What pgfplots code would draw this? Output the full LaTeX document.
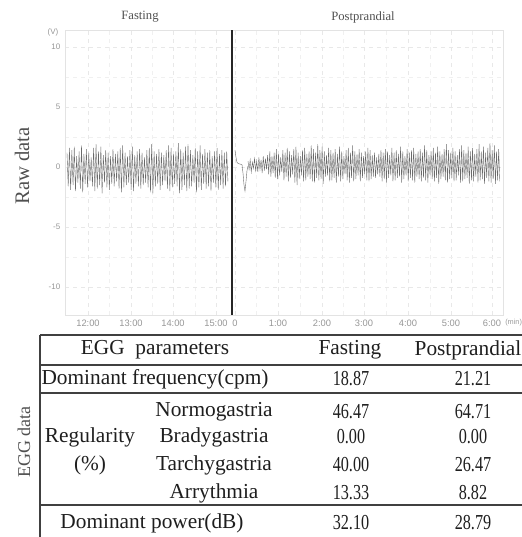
\documentclass[border=0pt]{standalone}
\usepackage{pgfplots}
\usepackage{pgfplotstable}
\pgfplotsset{compat=1.18}
\usepackage{fontspec}
\setmainfont{Liberation Serif}
\setsansfont{Liberation Sans}

% fasting trace: alternating peak / trough (V)
\pgfplotstableread[row sep=\\]{
y\\
1.2\\-1.6\\1.6\\-1.9\\1.4\\-1.5\\1.7\\-2.0\\0.9\\-1.3\\1.3\\-1.8\\1.8\\-2.1\\1.1\\-1.4\\1.5\\-1.7\\1.2\\-1.2\\
0.8\\-1.6\\1.6\\-2.0\\1.9\\-1.8\\1.3\\-1.5\\1.7\\-2.2\\1.0\\-1.3\\1.4\\-1.7\\1.2\\-1.9\\0.9\\-1.4\\1.5\\-1.6\\
1.1\\-1.2\\1.3\\-1.8\\1.6\\-2.1\\1.8\\-1.7\\1.2\\-1.5\\0.9\\-1.3\\1.4\\-1.9\\1.7\\-2.0\\1.0\\-1.4\\1.3\\-1.6\\
1.5\\-1.8\\1.2\\-1.5\\0.8\\-1.3\\1.4\\-1.7\\1.6\\-2.1\\1.9\\-2.2\\1.3\\-1.6\\1.1\\-1.4\\1.5\\-1.9\\1.2\\-1.5\\
1.0\\-1.2\\1.4\\-1.8\\1.8\\-2.0\\1.6\\-1.7\\1.1\\-1.4\\1.3\\-1.6\\2.0\\-2.2\\1.5\\-1.9\\1.2\\-1.5\\1.7\\-2.0\\
1.9\\-1.8\\1.4\\-1.6\\1.0\\-1.3\\1.6\\-2.1\\1.3\\-1.7\\1.8\\-1.9\\1.1\\-1.4\\1.5\\-1.8\\1.2\\-1.6\\1.4\\-2.0\\
0.9\\-1.3\\1.3\\-1.7\\1.6\\-1.9\\1.1\\-1.5\\1.4\\-1.8\\1.2\\-1.6\\1.3\\-1.2\\
}\fasting

% postprandial trace after the meal transient
\pgfplotstableread[row sep=\\]{
y\\
0.5\\-0.2\\0.6\\-0.4\\0.4\\-0.1\\0.7\\-0.3\\0.5\\-0.4\\0.8\\-0.2\\0.6\\-0.5\\0.9\\-0.3\\0.7\\-0.2\\
1.0\\-0.6\\1.3\\-0.8\\0.9\\-0.5\\1.2\\-0.9\\1.5\\-1.0\\1.1\\-0.7\\0.8\\-0.4\\1.4\\-1.1\\1.2\\-0.8\\1.6\\-1.2\\
1.3\\-0.9\\1.0\\-0.6\\1.5\\-1.3\\1.7\\-1.5\\1.2\\-1.0\\0.9\\-0.7\\1.4\\-1.2\\1.6\\-1.1\\1.1\\-0.8\\1.3\\-1.0\\
1.8\\-1.2\\1.5\\-1.3\\1.2\\-0.9\\1.9\\-1.1\\1.4\\-1.0\\1.7\\-1.4\\1.3\\-0.8\\1.0\\-0.7\\1.6\\-1.2\\1.4\\-1.1\\
1.2\\-0.9\\1.5\\-1.3\\1.1\\-0.8\\1.7\\-1.2\\1.3\\-1.0\\0.9\\-0.6\\1.4\\-1.1\\1.6\\-1.3\\1.2\\-0.9\\1.8\\-1.2\\
1.3\\-1.0\\1.1\\-0.7\\1.5\\-1.2\\1.2\\-0.9\\0.9\\-0.6\\1.3\\-1.1\\1.6\\-1.2\\1.4\\-1.0\\1.0\\-0.8\\1.2\\-0.9\\
0.8\\-0.6\\1.1\\-0.8\\1.4\\-1.2\\1.2\\-1.0\\1.5\\-1.3\\1.3\\-0.9\\1.0\\-0.7\\1.6\\-1.2\\1.2\\-1.1\\1.4\\-0.9\\
1.1\\-0.8\\1.7\\-1.3\\1.3\\-1.0\\0.9\\-0.7\\1.5\\-1.2\\1.2\\-0.9\\1.4\\-1.1\\1.6\\-1.3\\1.1\\-0.8\\1.3\\-1.0\\
1.5\\-1.2\\1.2\\-0.9\\1.8\\-1.1\\1.4\\-1.3\\1.0\\-0.7\\1.3\\-1.0\\1.6\\-1.2\\1.2\\-0.9\\1.7\\-1.4\\1.3\\-1.0\\
1.1\\-0.8\\1.5\\-1.1\\1.9\\-1.3\\1.4\\-1.0\\1.2\\-0.9\\1.6\\-1.2\\1.3\\-1.1\\1.0\\-0.7\\1.5\\-1.3\\1.8\\-1.2\\
1.4\\-1.0\\1.2\\-0.9\\1.7\\-1.4\\1.3\\-1.1\\1.6\\-1.2\\1.1\\-0.8\\1.5\\-1.3\\1.9\\-1.1\\1.3\\-1.0\\1.7\\-1.4\\
1.2\\-0.9\\1.6\\-1.2\\2.0\\-1.3\\1.4\\-1.0\\1.8\\-1.4\\1.3\\-1.1\\1.5\\-1.2\\
}\postprandial

\definecolor{trace}{RGB}{105,105,105}
\definecolor{ticktxt}{RGB}{150,150,150}
\definecolor{tabtxt}{RGB}{30,30,30}
\definecolor{sidetxt}{RGB}{80,80,80}

% condensed figures as in the original table
\newcommand{\num}[1]{\scalebox{0.76}[1]{#1}}

\begin{document}
\begin{tikzpicture}[x=0.75pt,y=-0.75pt]
\useasboundingbox (0,0) rectangle (522,537);

\begin{axis}[
    at={(48.75pt,-236.25pt)}, anchor=south west,
    scale only axis, width=328.5pt, height=213.75pt,
    xmin=65, xmax=503, ymin=-12.33, ymax=11.42,
    xtick={88,131,173,216,235,278,322,364,408,451,492},
    xticklabels={12:00,13:00,14:00,15:00,0,1:00,2:00,3:00,4:00,5:00,6:00},
    ytick={-10,-5,0,5,10},
    minor ytick={-7.5,-2.5,2.5,7.5},
    minor xtick={109,152,195,256,300,343,386,430,472},
    grid=both,
    major grid style={gray!18, dashed},
    minor grid style={gray!12, dashed},
    major tick length=0pt, minor tick length=0pt,
    axis line style={gray!22},
    tick label style={font=\sffamily\fontsize{7}{8}\selectfont, text=ticktxt},
    yticklabel style={font=\sffamily\fontsize{6}{7}\selectfont},
    /pgf/number format/assume math mode=true,
    clip=false,
]
\addplot[trace, line width=0.3pt] table[x expr=67+1.21*\coordindex, y=y]{\fasting};
\addplot[trace, line width=0.3pt] coordinates {(235,1.4) (236,0.8) (237,0.4) (238,0.3) (240,0.25) (242,0.2) (243,-0.5) (244,-1.5) (245,-2.0) (246,-1.2) (247,-0.3) (248,0.1)};
\addplot[trace, line width=0.3pt] table[x expr=248+1.09*\coordindex, y=y]{\postprandial};
\addplot[black!85, line width=1.6pt] coordinates {(232,11.42) (232,-12.33)};
\end{axis}

% axis annotations
\node[font=\sffamily\fontsize{6}{7}\selectfont, text=ticktxt] at (53,32) {(V)};
\node[font=\sffamily\fontsize{5.5}{7}\selectfont, text=gray!80, anchor=west, inner sep=0pt] at (505,323) {(min)};
\node[font=\fontsize{9.5}{11}\selectfont, text=sidetxt] at (140,17) {Fasting};
\node[font=\fontsize{9.5}{11}\selectfont, text=sidetxt] at (363,17) {Postprandial};
\node[font=\fontsize{15.5}{17}\selectfont, text=sidetxt, rotate=90] at (22,166) {Raw data};
\node[font=\fontsize{13.5}{15}\selectfont, text=sidetxt, rotate=90] at (24,442) {EGG\ data};

% parameter table
\begin{scope}[black!75, line width=0.8pt]
\draw (40,335) -- (540,335);
\draw (40,365) -- (540,365);
\draw (40,393) -- (540,393);
\draw (40,505) -- (540,505);
\draw (40,335) -- (40,540);
\end{scope}
\begin{scope}[every node/.style={font=\fontsize{16}{18}\selectfont, text=tabtxt}]
\node at (155,350) {EGG\ \ parameters};
\node at (350,350) {Fasting};
\node at (468,350) {Postprandial};
\node at (155,379) {Dominant\ frequency(cpm)};
\node at (351,379) {\num{18.87}};
\node at (473,379) {\num{21.21}};
\node at (90,437) {Regularity};
\node at (90,465) {(\%)};
\node at (214,412) {Normogastria};
\node at (214,437) {Bradygastria};
\node at (214,465) {Tarchygastria};
\node at (214,493) {Arrythmia};
\node at (351,412) {\num{46.47}};
\node at (351,437) {\num{0.00}};
\node at (351,465) {\num{40.00}};
\node at (351,493) {\num{13.33}};
\node at (473,412) {\num{64.71}};
\node at (473,437) {\num{0.00}};
\node at (473,465) {\num{26.47}};
\node at (473,493) {\num{8.82}};
\node at (152,523) {Dominant\ power(dB)};
\node at (351,523) {\num{32.10}};
\node at (473,523) {\num{28.79}};
\end{scope}
\end{tikzpicture}
\end{document}
